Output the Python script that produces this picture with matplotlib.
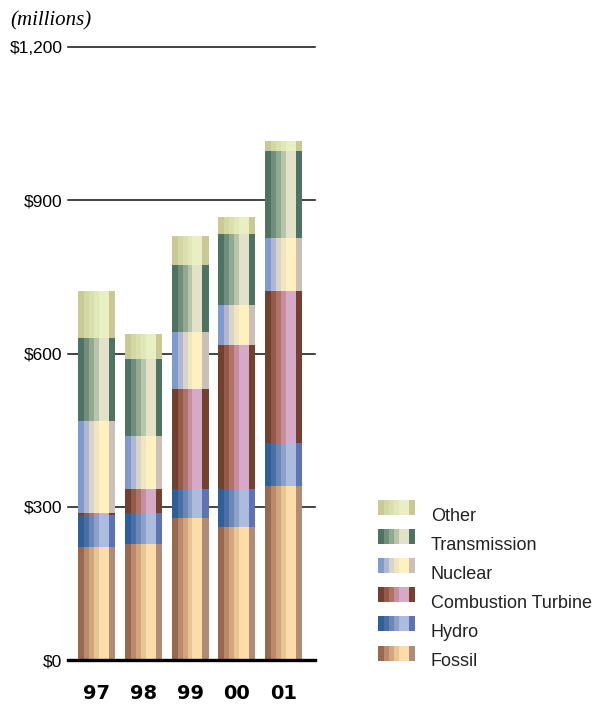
import matplotlib.pyplot as plt
from matplotlib.patches import Rectangle

years = ['97', '98', '99', '00', '01']
categories = ['Fossil', 'Hydro', 'Combustion Turbine', 'Nuclear', 'Transmission', 'Other']

fossil = [221, 227, 278, 260, 340]
hydro = [63, 61, 57, 75, 85]
combustion = [3, 47, 195, 281, 297]
nuclear = [181, 104, 112, 79, 104]
transmission = [162, 150, 131, 139, 170]
other = [92, 49, 57, 33, 20]

yticks = [0, 300, 600, 900, 1200]
ytick_labels = ['$0', '$300', '$600', '$900', '$1,200']

# each segment is drawn as vertical stripes to fake a rounded, shaded column
stripe_w = [6, 5, 5, 5, 10, 6]
shades = {
    'Fossil': ['#98684f', '#b98a6c', '#d3a57f', '#e9c596', '#fcdca8', '#b08b76'],
    'Hydro': ['#2e6097', '#4a6fa7', '#6a87b5', '#8ca0cb', '#adbbdc', '#5e72b6'],
    'Combustion Turbine': ['#72402f', '#935a4a', '#ae7269', '#c68e9c', '#d5a9c8', '#75412f'],
    'Nuclear': ['#7f9bcd', '#b1b7d3', '#d8d4c9', '#f1e4be', '#fff0c0', '#cbc0b8'],
    'Transmission': ['#4e7363', '#718d7b', '#91a98f', '#b6c5ab', '#e3e2c9', '#4e7363'],
    'Other': ['#c8c995', '#d3d7a3', '#dadfae', '#e1e7b7', '#e8efc3', '#c8c995'],
}
series = [fossil, hydro, combustion, nuclear, transmission, other]

fig = plt.figure(figsize=(5.95, 7.04), dpi=100)
ax = fig.add_axes([68 / 595, 44 / 704, 247 / 595, 613 / 704])

bar_w = 0.79
tot = sum(stripe_w)
x = list(range(len(years)))
bottom = [0] * len(years)
for name, vals in zip(categories, series):
    left = 0.0
    for sw, col in zip(stripe_w, shades[name]):
        w = bar_w * sw / tot
        xs = [xi - bar_w / 2 + left for xi in x]
        ax.bar(xs, vals, width=w + 0.002, bottom=bottom, align='edge',
               color=col, linewidth=0, zorder=3)
        left += w
    bottom = [b + v for b, v in zip(bottom, vals)]

for t in yticks[1:]:
    ax.axhline(t, color='#111111', lw=1.1, zorder=1, clip_on=False)
ax.axhline(0, color='black', lw=2.4, zorder=4, clip_on=False)

ax.set_xlim(-0.61, 4.674)
ax.set_ylim(0, 1200)
ax.set_yticks(yticks)
ax.set_yticklabels(ytick_labels, fontfamily='Liberation Sans', fontsize=12.5)
ax.set_xticks(x)
ax.set_xticklabels(years, fontfamily='DejaVu Sans', fontweight='heavy', fontsize=14)
ax.tick_params(axis='y', length=0, pad=4)
ax.tick_params(axis='x', length=0, pad=17)
for s in ax.spines.values():
    s.set_visible(False)

fig.text(10 / 595, 1 - 21 / 704, '(millions)', family='Liberation Serif',
         style='italic', fontsize=15, va='center', ha='left')

# legend, laid out in pixel coordinates
lg = fig.add_axes([0, 0, 1, 1])
lg.set_xlim(0, 595)
lg.set_ylim(704, 0)
lg.axis('off')
for i, name in enumerate(categories[::-1]):
    cy = 507.5 + i * 29.1
    left = 378
    for sw, col in zip(stripe_w, shades[name]):
        lg.add_patch(Rectangle((left, cy - 7.5), sw + 0.1, 15, color=col, lw=0))
        left += sw
    lg.text(431, cy + 13.5, name, family='Liberation Sans', fontsize=13,
            va='baseline', ha='left', color='#222222')

fig.savefig('out.png', dpi=100)
